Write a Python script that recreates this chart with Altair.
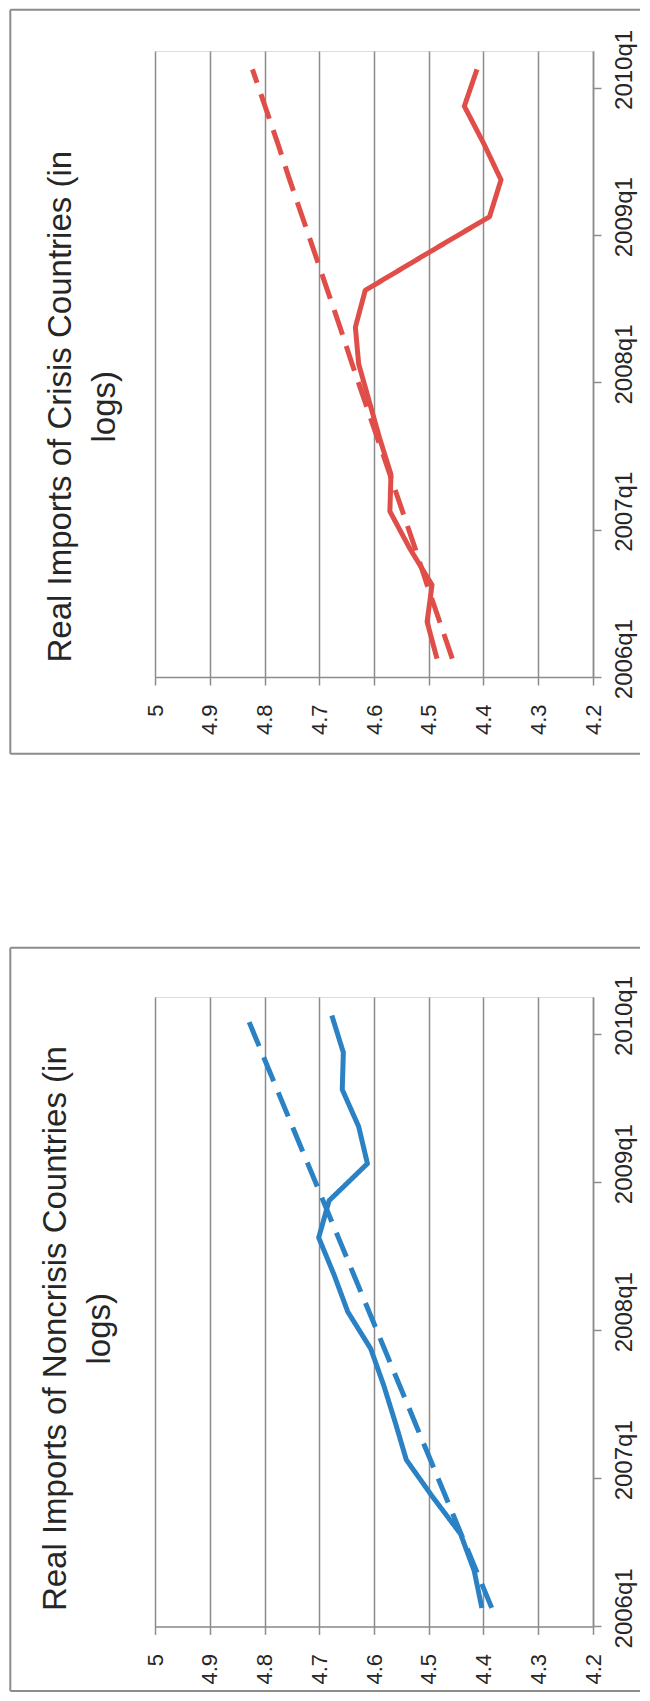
import altair as alt
import pandas as pd

# ---------------- data ----------------
quarters = ["2006q1", "2006q2", "2006q3", "2006q4",
            "2007q1", "2007q2", "2007q3", "2007q4",
            "2008q1", "2008q2", "2008q3", "2008q4",
            "2009q1", "2009q2", "2009q3", "2009q4",
            "2010q1"]
tick_labels = ["2006q1", "2007q1", "2008q1", "2009q1", "2010q1"]
value_ticks = [4.2, 4.3, 4.4, 4.5, 4.6, 4.7, 4.8, 4.9, 5.0]

crisis_actual = [4.485, 4.503, 4.494, 4.535, 4.571, 4.569, 4.590, 4.609, 4.628,
                 4.634, 4.616, 4.503, 4.389, 4.368, 4.400, 4.435, 4.412]
crisis_trend = [4.457, 4.480, 4.503, 4.525, 4.548, 4.571, 4.594, 4.617, 4.640,
                4.662, 4.685, 4.708, 4.731, 4.754, 4.776, 4.799, 4.822]

noncrisis_actual = [4.403, 4.417, 4.442, 4.493, 4.541, 4.561, 4.582, 4.606, 4.648,
                    4.673, 4.701, 4.682, 4.612, 4.628, 4.658, 4.656, 4.677]
noncrisis_trend = [4.385, 4.413, 4.441, 4.469, 4.497, 4.525, 4.553, 4.581, 4.609,
                   4.637, 4.665, 4.693, 4.721, 4.749, 4.777, 4.805, 4.833]

series_names = ["actual", "trend"]

crisis_title = ["Real Imports of Crisis Countries (in", "logs)"]
noncrisis_title = ["Real Imports of Noncrisis Countries (in", "logs)"]

GREY = "#8c8c8c"
TEXT = "#262626"
FONT = "Liberation Sans"
W = 438


def tick_label_expr():
    pos = [quarters.index(t) for t in tick_labels]
    expr = "''"
    for p, t in reversed(list(zip(pos, tick_labels))):
        expr = f"datum.value == {p} ? '{t}' : ({expr})"
    return expr, pos


def panel(actual, trend, color, title_lines, title_x, title_y, h, b_top, b_bottom):
    n = len(quarters)
    rows = []
    for i, q in enumerate(quarters):
        rows.append({"pos": i + 0.5, "quarter": q, "value": actual[i], "kind": series_names[0]})
        rows.append({"pos": i + 0.5, "quarter": q, "value": trend[i], "kind": series_names[1]})
    df = pd.DataFrame(rows)
    expr, pos = tick_label_expr()
    half = h / n / 2.0

    lines = alt.Chart(df).mark_line(color=color, strokeWidth=5, strokeJoin="round").encode(
        x=alt.X("value:Q",
                scale=alt.Scale(domain=[4.2, 5.0], reverse=True, nice=False, zero=False),
                axis=alt.Axis(values=value_ticks, format=".1~f", title=None,
                              labelAngle=270, labelAlign="right", labelBaseline="middle",
                              labelFontSize=22, labelFont=FONT, labelColor=TEXT,
                              labelPadding=19, tickSize=8, tickColor=GREY, tickWidth=1.5,
                              domainColor=GREY, domainWidth=1.5,
                              grid=True, gridColor=GREY, gridWidth=1.5, labelOverlap=False)),
        y=alt.Y("pos:Q",
                scale=alt.Scale(domain=[0, n], nice=False, zero=False),
                axis=alt.Axis(orient="right", values=pos, labelExpr=expr, title=None,
                              labelAngle=270, labelAlign="center", labelBaseline="top",
                              labelOffset=-half, labelFontSize=24, labelFont=FONT,
                              labelColor=TEXT, labelPadding=11, tickSize=8, tickColor=GREY,
                              tickWidth=1.5, domainColor=GREY, domainWidth=1.5, grid=False,
                              labelOverlap=False)),
        order="pos:Q",
        strokeDash=alt.StrokeDash("kind:N",
                                  scale=alt.Scale(domain=series_names, range=[[1, 0], [26, 12]]),
                                  legend=None),
    )

    one = pd.DataFrame({"k": [0]})
    left, right = -144.7, 485
    top_rule = alt.Chart(one).mark_rule(color=GREY, strokeWidth=2).encode(
        x=alt.value(left), x2=alt.value(right), y=alt.value(b_top))
    bot_rule = alt.Chart(one).mark_rule(color=GREY, strokeWidth=2).encode(
        x=alt.value(left), x2=alt.value(right), y=alt.value(b_bottom))
    left_rule = alt.Chart(one).mark_rule(color=GREY, strokeWidth=2).encode(
        x=alt.value(left), y=alt.value(b_top), y2=alt.value(b_bottom))

    title = alt.Chart(one).mark_text(
        text=title_lines, angle=270, align="center", baseline="alphabetic",
        font=FONT, fontSize=33, color=TEXT, lineHeight=44,
    ).encode(x=alt.value(title_x), y=alt.value(title_y))

    return alt.layer(lines, top_rule, bot_rule, left_rule, title).properties(
        width=W, height=h)


top = panel(crisis_actual, crisis_trend, "#E04E49", crisis_title,
            -84.1, 355.7, 626, -41.3, 702.7)
bottom = panel(noncrisis_actual, noncrisis_trend, "#2A81C4", noncrisis_title,
               -89.0, 331.7, 629.4, -49.3, 694)

chart = alt.vconcat(top, bottom, spacing=190).properties(padding=0).configure_view(
    strokeWidth=0).configure(background="white")

chart.save("out.html", embed_options={"renderer": "svg", "actions": False})
